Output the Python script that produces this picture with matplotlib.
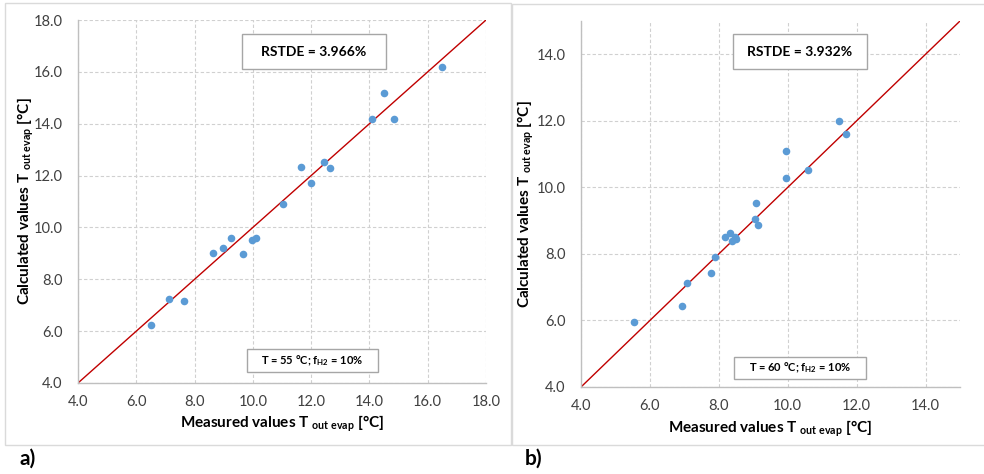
import matplotlib
matplotlib.use("Agg")
import matplotlib.pyplot as plt
from matplotlib.patches import Rectangle

# ---- data ----
a_measured = [6.52, 7.12, 7.65, 8.64, 8.98, 9.24, 9.65, 9.96, 10.11, 11.05, 11.64, 12.0, 12.45, 12.65, 14.1, 14.5, 14.85, 16.5]
a_calculated = [6.22, 7.23, 7.18, 9.0, 9.19, 9.58, 8.96, 9.50, 9.59, 10.9, 12.32, 11.72, 12.53, 12.28, 14.17, 15.17, 14.17, 16.19]
b_measured = [5.54, 6.94, 7.08, 7.76, 7.89, 8.18, 8.32, 8.37, 8.46, 8.51, 9.05, 9.08, 9.15, 9.94, 9.95, 10.60, 11.48, 11.69]
b_calculated = [5.95, 6.43, 7.13, 7.44, 7.90, 8.52, 8.62, 8.40, 8.50, 8.46, 9.05, 9.52, 8.87, 10.28, 11.08, 10.53, 11.98, 11.59]

a_ticks = [4.0, 6.0, 8.0, 10.0, 12.0, 14.0, 16.0, 18.0]
b_ticks = [4.0, 6.0, 8.0, 10.0, 12.0, 14.0]
a_lim = (4.0, 18.0)
b_lim = (4.0, 15.0)
a_rstde = "RSTDE = 3.966%"
b_rstde = "RSTDE = 3.932%"
a_cond = r"T = 55 °C; f$_{\mathbf{H2}}$ = 10%"
b_cond = r"T = 60 °C; f$_{\mathbf{H2}}$ = 10%"
xlabel = r"Measured values T $_{\mathbf{out\ evap}}$ [°C]"
ylabel = r"Calculated values T $_{\mathbf{out\ evap}}$ [°C]"

plt.rcParams['font.family'] = ['Lato', 'DejaVu Sans']
plt.rcParams['mathtext.fontset'] = 'custom'
plt.rcParams['mathtext.rm'] = 'Lato'
plt.rcParams['mathtext.bf'] = 'Lato:bold'
plt.rcParams['mathtext.it'] = 'Lato:italic'

W, H = 984, 474
fig = plt.figure(figsize=(W / 100, H / 100), dpi=100)

def fx(px):
    return px / W

def fy(py):
    return 1 - py / H

# panel borders
fig.add_artist(Rectangle((fx(5), fy(445)), fx(511) - fx(5), fy(3) - fy(445),
                         transform=fig.transFigure, fill=False, edgecolor='#DADADA', lw=1))
fig.add_artist(Rectangle((fx(512), fy(445)), fx(990) - fx(512), fy(4) - fy(445),
                         transform=fig.transFigure, fill=False, edgecolor='#DADADA', lw=1))

def make_panel(box, xs, ys, ticks, lim, rstde, cond, rbox, cbox, ylab_x, xlab_y, letter, letter_x):
    l, t, r, b = box
    ax = fig.add_axes([fx(l), fy(b), fx(r) - fx(l), fy(t) - fy(b)])
    ax.set_xlim(*lim)
    ax.set_ylim(*lim)
    ax.set_xticks(ticks)
    ax.set_yticks(ticks)
    ax.set_xticklabels([f"{v:.1f}" for v in ticks])
    ax.set_yticklabels([f"{v:.1f}" for v in ticks])
    ax.tick_params(length=0, labelsize=10.5, colors='#404040', pad=9)
    ax.tick_params(axis='y', pad=11)
    ax.grid(True, linestyle=(0, (3, 2)), color='#D0D0D0', lw=0.8)
    ax.set_axisbelow(True)
    for s in ['top', 'right']:
        ax.spines[s].set_visible(False)
    for s in ['left', 'bottom']:
        ax.spines[s].set_color('#BFBFBF')
        ax.spines[s].set_linewidth(1)
    ax.plot(lim, lim, color='#C00000', lw=1.0, zorder=2)
    ax.scatter(xs, ys, s=30, color='#5B9BD5', zorder=3, linewidths=0)
    # boxes
    for (bl, bt, br, bb), txt, fs in [(rbox, rstde, 10), (cbox, cond, 8)]:
        fig.add_artist(Rectangle((fx(bl), fy(bb)), fx(br) - fx(bl), fy(bt) - fy(bb),
                                 transform=fig.transFigure, facecolor='white',
                                 edgecolor='#A6A6A6', lw=1, zorder=5))
        fig.text(fx((bl + br) / 2), fy((bt + bb) / 2), txt, ha='center', va='center',
                 fontsize=fs, fontweight='bold', zorder=6)
    fig.text(fx((l + r) / 2), fy(xlab_y), xlabel, ha='center', va='center',
             fontsize=11, fontweight='bold')
    fig.text(fx(ylab_x), fy((t + b) / 2), ylabel, ha='center', va='center',
             rotation=90, fontsize=11, fontweight='bold')
    fig.text(fx(letter_x), fy(459), letter, ha='left', va='center',
             fontsize=15, fontweight='bold')
    return ax

make_panel((78, 20, 486, 383), a_measured, a_calculated, a_ticks, a_lim, a_rstde, a_cond,
           (242, 34, 386, 69), (247, 349, 378, 372), 26, 424, "a)", 20)
make_panel((581, 21, 960, 387), b_measured, b_calculated, b_ticks, b_lim, b_rstde, b_cond,
           (733, 34, 867, 69), (734, 357, 866, 379), 526, 429, "b)", 525)

fig.savefig("out.png", dpi=100)
